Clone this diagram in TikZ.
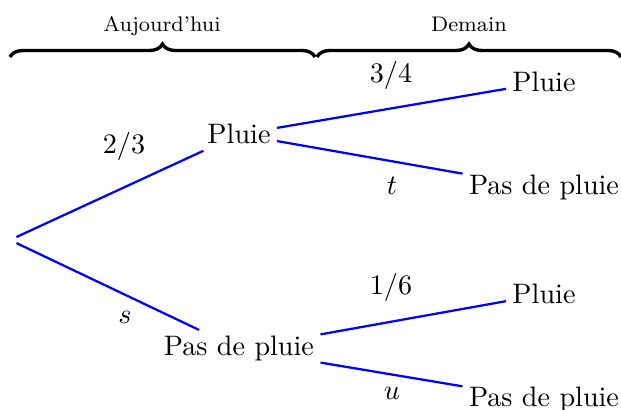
\documentclass[tikz,border=0pt]{standalone}
\usetikzlibrary{decorations.pathreplacing}
\begin{document}
\begin{tikzpicture}[x=0.355pt,y=-0.355pt,
  state/.style={anchor=base,font=\fontsize{10}{12}\selectfont,inner sep=2.1pt},
  rootnode/.style={inner sep=2.1pt},
  prob/.style={anchor=base,font=\fontsize{10}{12}\selectfont,inner sep=0pt},
  branch/.style={blue,thick},
  bracelabel/.style={anchor=base,font=\fontsize{7.5}{9}\selectfont,inner sep=0pt},
  bracepath/.style={decorate,decoration={brace,amplitude=4.6pt},line width=1.2pt}]
\useasboundingbox (0,0) rectangle (621,410);
% nodes
\node (root) at (10,240) [rootnode] {};
\node (a) at (239,144) [state] {Pluie};
\node (b) at (239,356) [state] {Pas de pluie};
\node (aa) at (544,92) [state] {Pluie};
\node (ab) at (544,195) [state] {Pas de pluie};
\node (ba) at (544,304) [state] {Pluie};
\node (bb) at (544,407) [state] {Pas de pluie};
% edges
\draw[branch] (root) -- (a);
\draw[branch] (root) -- (b);
\draw[branch] (a) -- (aa);
\draw[branch] (a) -- (ab);
\draw[branch] (b) -- (ba);
\draw[branch] (b) -- (bb);
% probabilities
\node (l1) at (124,154) [prob] {$2/3$};
\node (l2) at (125,324) [prob] {$s$};
\node (l3) at (391,83) [prob] {$3/4$};
\node (l4) at (392,195) [prob] {$t$};
\node (l5) at (391,295) [prob] {$1/6$};
\node (l6) at (392,400) [prob] {$u$};
% braces
\coordinate (b1s) at (10,57);
\coordinate (b1e) at (315,57);
\coordinate (b2s) at (317,57);
\coordinate (b2e) at (621,57);
\draw[bracepath] (b1s) -- (b1e);
\draw[bracepath] (b2s) -- (b2e);
\node (t1) at (162,32) [bracelabel] {Aujourd'hui};
\node (t2) at (469,32) [bracelabel] {Demain};
\end{tikzpicture}
\end{document}
